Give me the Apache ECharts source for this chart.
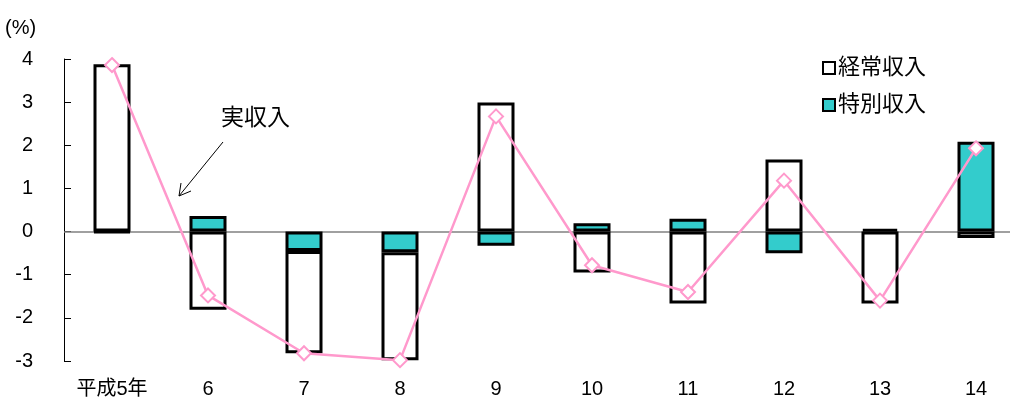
<!DOCTYPE html>
<html>
<head>
<meta charset="utf-8">
<script src="https://cdn.jsdelivr.net/npm/echarts@6/dist/echarts.min.js"></script>
<style>
  html, body { margin: 0; padding: 0; background: #fff; overflow: hidden; }
  /* the plot runs a little past the right edge of the 1010px page */
  #chart { width: 1030px; height: 399px; }
</style>
</head>
<body>
<div id="chart"></div>
<script>
// 年次（平成）
const categories = ['平成5年', '6', '7', '8', '9', '10', '11', '12', '13', '14'];
// 経常収入の寄与度（%）
const regularIncome = [3.88, -1.81, -2.37, -2.50, 2.99, -0.95, -1.67, 1.67, -1.67, -0.15];
// 特別収入の寄与度（%）
const specialIncome = [-0.02, 0.36, -0.45, -0.48, -0.33, 0.19, 0.30, -0.50, 0.06, 2.08];
// 実収入の対前年増減率（%）
const actualIncome = [3.86, -1.48, -2.82, -2.98, 2.67, -0.78, -1.40, 1.18, -1.60, 1.93];
// 縦軸目盛
const yTicks = { min: -3, max: 4, step: 1 };

const font = '"Liberation Sans", Arial, "Noto Sans CJK JP", sans-serif';
const teal = '#33CCCC';
const pink = '#FF99CC';

const chart = echarts.init(document.getElementById('chart'));
chart.setOption({
  animation: false,
  backgroundColor: '#fff',
  textStyle: { fontFamily: font, color: '#000' },
  grid: { left: 64, right: 6, top: 59, bottom: 38, containLabel: false },
  legend: {
    data: ['経常収入', '特別収入'],
    orient: 'vertical',
    left: 817,
    top: 52,
    itemWidth: 12,
    itemHeight: 12,
    itemGap: 15,
    icon: 'rect',
    textStyle: { fontSize: 22, fontFamily: font, color: '#000', padding: [0, 0, 0, -2] },
    selectedMode: false
  },
  xAxis: {
    type: 'category',
    data: categories,
    axisLine: { show: false, onZero: false },
    axisTick: { show: false },
    axisLabel: { fontSize: 20, color: '#000', margin: 18, fontFamily: font }
  },
  yAxis: {
    type: 'value',
    min: yTicks.min,
    max: yTicks.max,
    interval: yTicks.step,
    axisLine: { show: true, lineStyle: { color: '#000', width: 1 } },
    axisTick: { show: true, inside: true, length: 7, lineStyle: { color: '#000' } },
    splitLine: { show: false },
    axisLabel: { fontSize: 20, color: '#000', margin: 31, fontFamily: font }
  },
  graphic: [
    { type: 'text', left: 5, top: 18, style: { text: '(%)', fontSize: 20, fontFamily: font, fill: '#000' } },
    { type: 'text', left: 221, top: 107, style: { text: '実収入', fontSize: 23, fontFamily: font, fill: '#000' } },
    { type: 'line', shape: { x1: 223, y1: 142, x2: 179, y2: 196 }, style: { stroke: '#000', lineWidth: 1 } },
    { type: 'polyline', shape: { points: [[181, 183], [179, 196], [191, 191]] }, style: { stroke: '#000', lineWidth: 1, fill: null } }
  ],
  series: [
    {
      name: '特別収入',
      type: 'bar',
      stack: 'income',
      barWidth: 37,
      data: specialIncome,
      itemStyle: { color: teal, borderColor: '#000', borderWidth: 3 },
      markLine: {
        silent: true,
        symbol: ['none', 'none'],
        label: { show: false },
        lineStyle: { color: '#808080', width: 1.5, type: 'solid' },
        data: [{ yAxis: 0 }],
        z: 1
      }
    },
    {
      name: '経常収入',
      type: 'bar',
      stack: 'income',
      barWidth: 37,
      data: regularIncome,
      itemStyle: { color: '#fff', borderColor: '#000', borderWidth: 3 }
    },
    {
      name: '実収入',
      type: 'line',
      data: actualIncome,
      z: 5,
      symbol: 'diamond',
      symbolSize: 14,
      lineStyle: { color: pink, width: 2.5 },
      itemStyle: { color: '#fff', borderColor: pink, borderWidth: 2 }
    }
  ]
});
</script>
</body>
</html>
